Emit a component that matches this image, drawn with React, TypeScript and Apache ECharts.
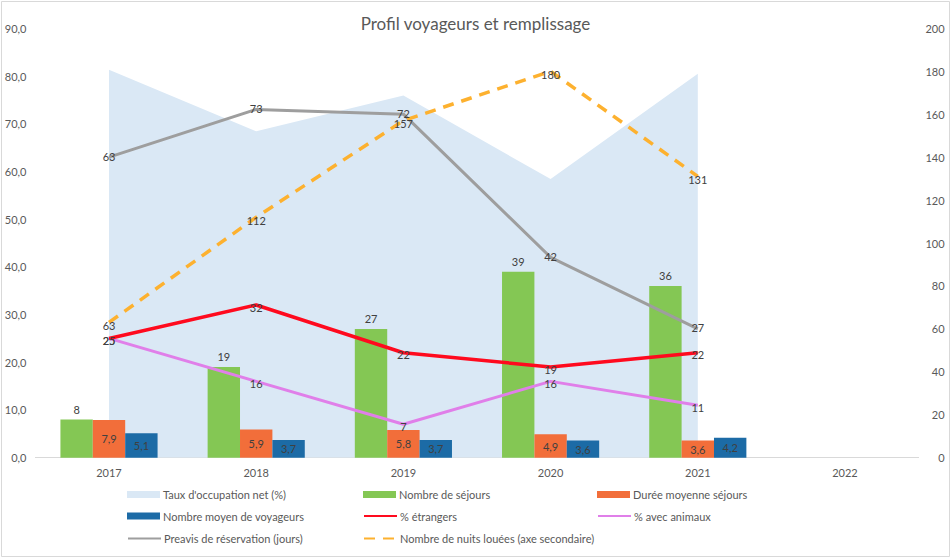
import React, { useEffect, useRef } from "react";
import * as echarts from "echarts";

const years = ["2017", "2018", "2019", "2020", "2021", "2022"];
const tauxOccupation = [81.3, 68.4, 75.9, 58.4, 80.5, null];
const nbSejours = [8, 19, 27, 39, 36, null];
const dureeMoyenne = [7.9, 5.9, 5.8, 4.9, 3.6, null];
const nbVoyageurs = [5.1, 3.7, 3.7, 3.6, 4.2, null];
const pctEtrangers = [25, 32, 22, 19, 22, null];
const pctAnimaux = [25, 16, 7, 16, 11, null];
const preavis = [63, 73, 72, 42, 27, null];
const nuitsLouees = [63, 112, 157, 180, 131, null];

const leftAxisMax = 90;
const leftAxisStep = 10;
const rightAxisMax = 200;
const rightAxisStep = 20;

const names = {
  taux: "Taux d'occupation net (%)",
  sejours: "Nombre de séjours",
  duree: "Durée moyenne séjours",
  voyageurs: "Nombre moyen de voyageurs",
  etrangers: "% étrangers",
  animaux: "% avec animaux",
  preavis: "Preavis de réservation (jours)",
  nuits: "Nombre de nuits louées (axe secondaire)",
};

const FONT = "Lato, 'Noto Sans', sans-serif";
const TXT = "#595959";
const LBL = "#404040";

const comma = (v: number) => v.toFixed(1).replace(".", ",");

export default function App() {
  const ref = useRef<HTMLDivElement>(null);
  useEffect(() => {
    document.body.style.margin = "0";
    const chart = echarts.init(ref.current!, null, { renderer: "svg" });

    const legendOrder: [string, string | null][] = [
      [names.taux, "rect"],
      [names.sejours, "rect"],
      [names.duree, "rect"],
      [names.voyageurs, "rect"],
      [names.etrangers, null],
      [names.animaux, null],
      [names.preavis, null],
      [names.nuits, null],
    ];
    const cols = [127, 363, 597];
    const rows = [496, 517.5, 540];
    const legends = legendOrder.map(([n, icon], i) => ({
      data: [icon ? { name: n, icon } : { name: n }],
      left: cols[i % 3],
      top: rows[Math.floor(i / 3)] - 7,
      padding: 0,
      itemWidth: 33,
      itemHeight: icon ? 7 : 14,
      itemStyle: icon ? {} : { opacity: 0 },
      textStyle: { fontFamily: FONT, fontSize: 11, color: TXT, padding: [0, 0, 0, -2] },
    }));

    const lineLabel = (dy: number) => ({
      show: true,
      position: "inside",
      offset: [0, dy],
      fontFamily: FONT,
      fontSize: 11,
      color: LBL,
    });

    const hiddenSymbol = {
      symbol: "circle",
      symbolSize: 1,
      itemStyle: { color: "transparent" },
    };

    chart.setOption({
      animation: false,
      title: {
        text: "Profil voyageurs et remplissage",
        left: "center",
        top: 10,
        textStyle: { fontFamily: FONT, fontSize: 17, fontWeight: "normal", color: TXT },
      },
      graphic: [
        {
          type: "rect",
          shape: { x: 1.5, y: 1.5, width: 948, height: 555 },
          style: { fill: "none", stroke: "#D9D9D9", lineWidth: 1 },
          silent: true,
          z: -10,
        },
      ],
      legend: legends,
      grid: { left: 35.4, right: 32.4, top: 28.3, bottom: 101.3 },
      xAxis: {
        type: "category",
        data: years,
        boundaryGap: true,
        axisLine: { lineStyle: { color: "#D9D9D9", width: 1 } },
        axisTick: { show: false },
        axisLabel: { fontFamily: FONT, fontSize: 11, color: TXT, margin: 9 },
      },
      yAxis: [
        {
          type: "value",
          min: 0,
          max: leftAxisMax,
          interval: leftAxisStep,
          splitLine: { show: false },
          axisLine: { show: false },
          axisTick: { show: false },
          axisLabel: {
            fontFamily: FONT,
            fontSize: 11,
            color: TXT,
            margin: 9,
            formatter: (v: number) => comma(v),
          },
        },
        {
          type: "value",
          min: 0,
          max: rightAxisMax,
          interval: rightAxisStep,
          splitLine: { show: false },
          axisLine: { show: false },
          axisTick: { show: false },
          axisLabel: {
            fontFamily: FONT,
            fontSize: 11,
            color: TXT,
            margin: 26,
            align: "right",
          },
        },
      ],
      series: [
        {
          name: names.taux,
          type: "line",
          data: tauxOccupation,
          symbol: "none",
          color: "#DAE8F5",
          itemStyle: { color: "#DAE8F5" },
          lineStyle: { width: 0, color: "#DAE8F5" },
          areaStyle: { color: "#DAE8F5", opacity: 1 },
          z: 1,
        },
        {
          name: names.sejours,
          type: "bar",
          data: nbSejours,
          barGap: "0%",
          barCategoryGap: "34%",
          itemStyle: { color: "#84C754" },
          label: {
            show: true,
            position: "top",
            distance: 5,
            fontFamily: FONT,
            fontSize: 11,
            color: LBL,
          },
          z: 2,
        },
        {
          name: names.duree,
          type: "bar",
          data: dureeMoyenne,
          barGap: "0%",
          barCategoryGap: "34%",
          itemStyle: { color: "#F26E3A" },
          label: {
            show: true,
            position: "inside",
            fontFamily: FONT,
            fontSize: 11,
            color: LBL,
            formatter: (p: any) => comma(p.value),
          },
          z: 2,
        },
        {
          name: names.voyageurs,
          type: "bar",
          data: nbVoyageurs,
          barGap: "0%",
          barCategoryGap: "34%",
          itemStyle: { color: "#1C6BA6" },
          label: {
            show: true,
            position: "inside",
            fontFamily: FONT,
            fontSize: 11,
            color: LBL,
            formatter: (p: any) => comma(p.value),
          },
          z: 2,
        },
        {
          name: names.etrangers,
          type: "line",
          data: pctEtrangers,
          ...hiddenSymbol,
          color: "#FF0A1E",
          lineStyle: { width: 3.5, color: "#FF0A1E" },
          label: lineLabel(2),
          z: 4,
        },
        {
          name: names.animaux,
          type: "line",
          data: pctAnimaux,
          ...hiddenSymbol,
          color: "#E07FE9",
          lineStyle: { width: 3, color: "#E07FE9" },
          label: lineLabel(2),
          z: 3,
        },
        {
          name: names.preavis,
          type: "line",
          data: preavis,
          ...hiddenSymbol,
          color: "#9E9E9E",
          lineStyle: { width: 3, color: "#9E9E9E" },
          label: lineLabel(-1),
          z: 3,
        },
        {
          name: names.nuits,
          type: "line",
          yAxisIndex: 1,
          data: nuitsLouees,
          ...hiddenSymbol,
          color: "#FDB12F",
          lineStyle: { width: 3.5, color: "#FDB12F", type: [11, 8] },
          label: lineLabel(3),
          z: 3,
        },
      ],
    });
    return () => chart.dispose();
  }, []);
  return <div ref={ref} style={{ width: 951, height: 559 }} />;
}
